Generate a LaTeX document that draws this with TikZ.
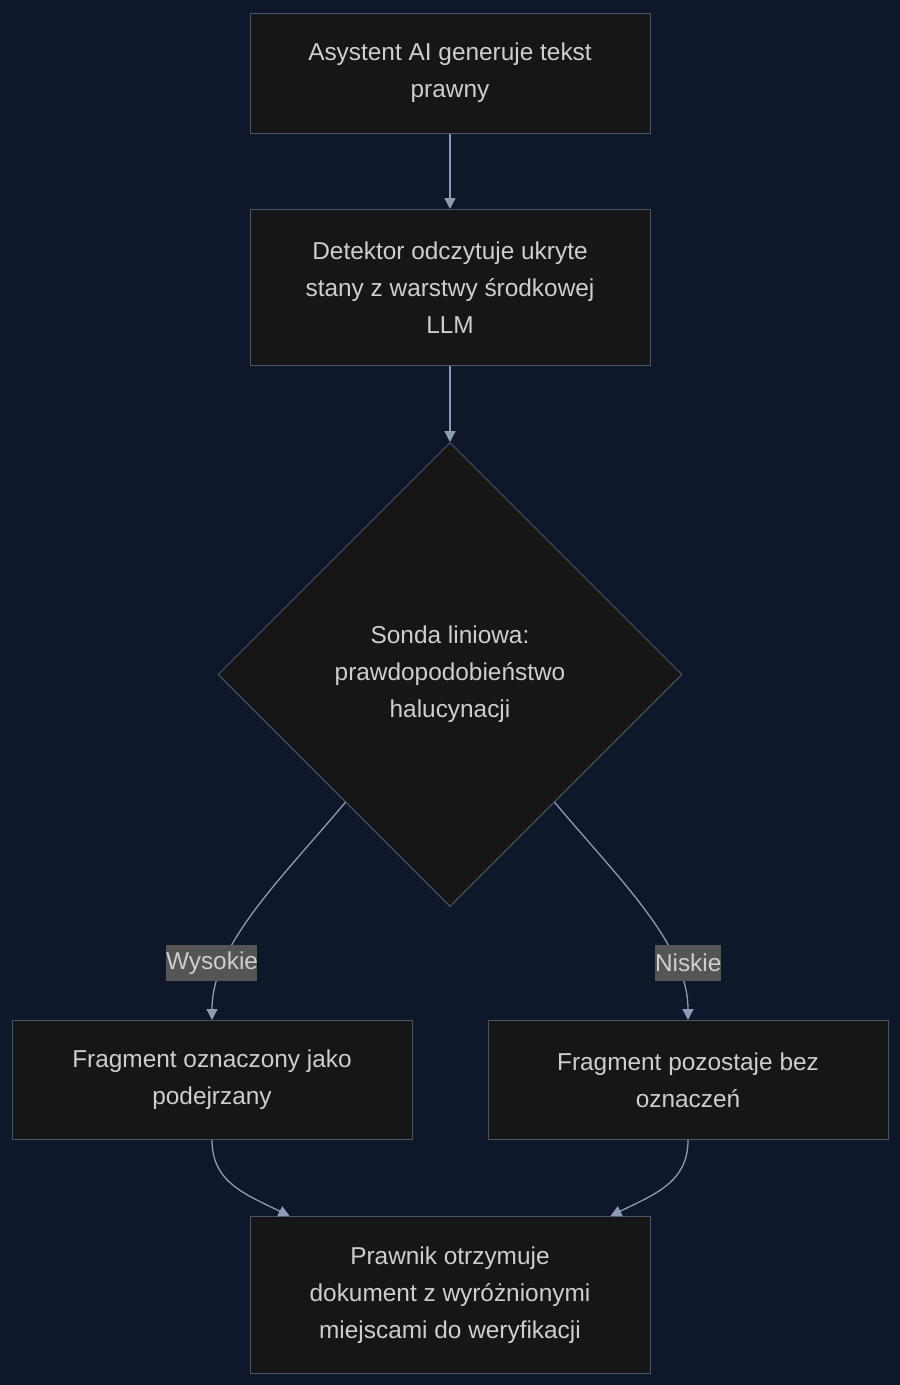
\documentclass[tikz,border=0pt]{standalone}
\usepackage{fontspec}
\setmainfont{Liberation Sans}
\usetikzlibrary{arrows.meta,shapes.geometric,positioning,calc}
\definecolor{NavyBg} {RGB}{15, 23, 42}
\definecolor{BoxF}   {RGB}{22, 22, 22}
\definecolor{BoxE}   {RGB}{72, 86, 106}
\definecolor{TextG}  {RGB}{206,206,206}
\definecolor{ArrowS} {RGB}{140,156,180}
\definecolor{LabelF} {RGB}{85, 85, 85}

\begin{document}
\begin{tikzpicture}[x=1pt,y=-1pt,
    box/.style={draw=BoxE,fill=BoxF,line width=1pt,minimum width=400pt,
      align=center,text=TextG,inner sep=0pt,
      font=\fontsize{24.4}{37}\selectfont},
    decision/.style={diamond,draw=BoxE,fill=BoxF,line width=1pt,aspect=1,
      minimum width=464pt,minimum height=464pt,inner sep=0pt,align=center,
      text=TextG,font=\fontsize{24.4}{37}\selectfont},
    tag/.style={fill=LabelF,text=TextG,inner sep=0pt,minimum height=36pt,
      text width=#1,align=center,font=\fontsize{24.4}{28}\selectfont},
    flow/.style={ArrowS,line width=1.3pt,-{Triangle[length=11pt,width=11pt]}}]
  \fill[NavyBg] (0,0) rectangle (900,1385);
  % boxes
  \node[box,minimum height=120pt] (gen) at (450,73)
    {Asystent AI generuje tekst\\prawny};
  \node[box,minimum height=156pt] (det) at (450,287.5)
    {Detektor odczytuje ukryte\\stany z warstwy środkowej\\LLM};
  \node[decision] (probe) at (450,674.5)
    {Sonda liniowa:\\prawdopodobieństwo\\halucynacji};
  \node[box,minimum height=119pt] (flag) at (212,1080)
    {Fragment oznaczony jako\\podejrzany};
  \node[box,minimum height=119pt] (keep) at (688,1080)
    {Fragment pozostaje bez\\oznaczeń};
  \node[box,minimum height=157pt] (law) at (450,1295)
    {Prawnik otrzymuje\\dokument z wyróżnionymi\\miejscami do weryfikacji};
  % connectors
  \draw[flow] (gen) -- (det);
  \draw[flow] (det) -- (probe);
  \coordinate (pl) at ($(probe.south)!0.45!(probe.west)$);
  \coordinate (pr) at ($(probe.south)!0.45!(probe.east)$);
  \draw[flow] (pl) .. controls (280,880) and (212,945) .. (flag.north);
  \draw[flow] (pr) .. controls (620,880) and (688,945) .. (keep.north);
  \draw[flow] (flag.south) .. controls +(0,42) and +(-45,-22) ..
    ($(law.north west)!0.1!(law.north east)$);
  \draw[flow] (keep.south) .. controls +(0,42) and +(45,-22) ..
    ($(law.north west)!0.9!(law.north east)$);
  % edge labels
  \node[tag=91pt] (hi) at (211.5,963) {Wysokie};
  \node[tag=66pt] (lo) at (688,963) {Niskie};
\end{tikzpicture}
\end{document}
